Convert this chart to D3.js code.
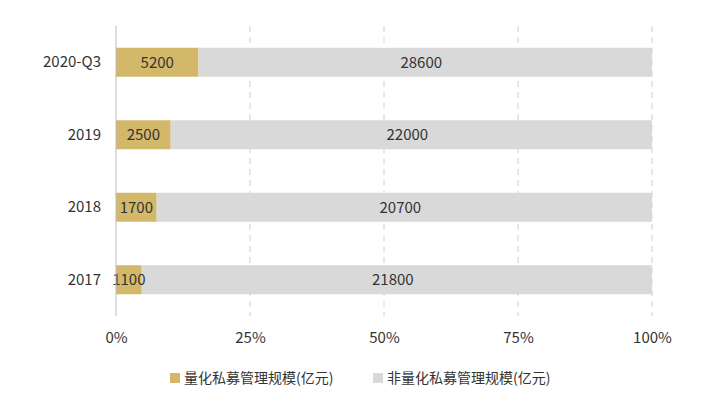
<!DOCTYPE html>
<html><head><meta charset="utf-8">
<script src="https://cdn.jsdelivr.net/npm/d3@7"></script>
<style>body{margin:0;background:#fff}text{font-family:"Noto Sans CJK SC","Noto Sans",sans-serif;fill:#333}</style>
</head><body><svg id="c" width="703" height="403"></svg>
<script>
const years = ["2020-Q3", "2019", "2018", "2017"];
const quant = [5200, 2500, 1700, 1100];
const nonQuant = [28600, 22000, 20700, 21800];
const ticks = [0, 0.25, 0.5, 0.75, 1];
const legendNames = ["量化私募管理规模(亿元)", "非量化私募管理规模(亿元)"];
const colors = ["#d4b86a", "#d9d9d9"];

const svg = d3.select("#c");
const x = d3.scaleLinear().domain([0, 1]).range([116, 652]);
const y = d3.scaleBand().domain(years).range([26, 316]).paddingInner(0.6).paddingOuter(0.3);

svg.selectAll(".grid").data(ticks.slice(1)).enter().append("line")
  .attr("x1", d => x(d)).attr("x2", d => x(d)).attr("y1", 26).attr("y2", 316)
  .attr("stroke", "#d0d0d0").attr("stroke-dasharray", "6,5");

const rows = years.map((k, i) => {
  const t = quant[i] + nonQuant[i];
  return {k, q: quant[i], n: nonQuant[i], p: quant[i] / t};
});
const g = svg.selectAll(".row").data(rows).enter().append("g");
g.append("rect").attr("x", x(0)).attr("y", d => y(d.k)).attr("height", y.bandwidth())
  .attr("width", d => x(d.p) - x(0)).attr("fill", colors[0]);
g.append("rect").attr("x", d => x(d.p)).attr("y", d => y(d.k)).attr("height", y.bandwidth())
  .attr("width", d => x(1) - x(d.p)).attr("fill", colors[1]);
g.append("text").attr("x", d => (x(0) + x(d.p)) / 2).attr("y", d => y(d.k) + y.bandwidth() / 2)
  .attr("dy", "0.35em").attr("text-anchor", "middle").attr("font-size", 15).text(d => d.q);
g.append("text").attr("x", d => (x(d.p) + x(1)) / 2 - 4).attr("y", d => y(d.k) + y.bandwidth() / 2)
  .attr("dy", "0.35em").attr("text-anchor", "middle").attr("font-size", 15).text(d => d.n);

const ya = svg.append("g").attr("transform", `translate(${x(0)},0)`)
  .call(d3.axisLeft(y).tickSize(0).tickPadding(15));
ya.select(".domain").attr("stroke", "#bbb").attr("d", "M0,26V316");
ya.selectAll("text").attr("font-size", 15);

const xa = svg.append("g").attr("transform", "translate(0,316)")
  .call(d3.axisBottom(x).tickValues(ticks).tickFormat(d3.format(".0%")).tickSize(0).tickPadding(16));
xa.select(".domain").remove();
xa.selectAll("text").attr("font-size", 15);

const lx = [170, 373];
legendNames.forEach((n, i) => {
  svg.append("rect").attr("x", lx[i]).attr("y", 373).attr("width", 10).attr("height", 10).attr("fill", colors[i]);
  svg.append("text").attr("x", lx[i] + 14).attr("y", 378).attr("dy", "0.35em").attr("font-size", 14).text(n);
});
</script></body></html>
